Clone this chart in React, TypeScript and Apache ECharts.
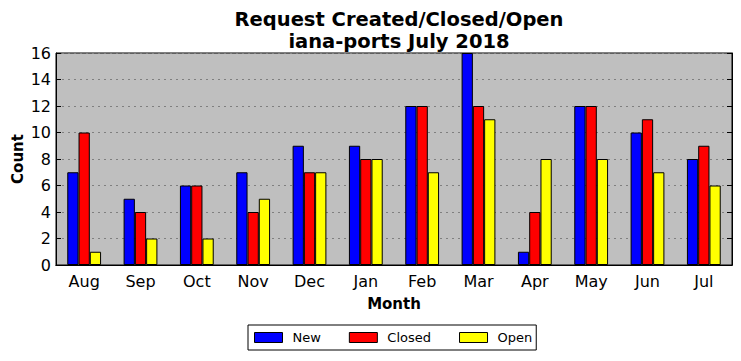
import React, { useEffect, useRef } from "react";
import * as echarts from "echarts";

const months = ["Aug", "Sep", "Oct", "Nov", "Dec", "Jan", "Feb", "Mar", "Apr", "May", "Jun", "Jul"];
const newVals = [7, 5, 6, 7, 9, 9, 12, 16, 1, 12, 10, 8];
const closedVals = [10, 4, 6, 4, 7, 8, 12, 12, 4, 12, 11, 9];
const openVals = [1, 2, 2, 5, 7, 8, 7, 11, 8, 8, 7, 6];

const FONT = "DejaVu Sans";

export default function App() {
  const ref = useRef<HTMLDivElement>(null);
  useEffect(() => {
    const chart = echarts.init(ref.current!, null, { renderer: "svg" });
    const bar = (name: string, data: number[], color: string) => ({
      name,
      type: "bar",
      data,
      barWidth: "20%",
      barGap: "0%",
      itemStyle: { color, borderColor: "#000", borderWidth: 1 },
    });
    chart.setOption({
      animation: false,
      backgroundColor: "#fff",
      textStyle: { fontFamily: FONT },
      title: {
        text: "Request Created/Closed/Open\niana-ports July 2018",
        left: 394,
        textAlign: "center",
        top: 3,
        textStyle: { fontSize: 19.5, fontWeight: "bold", color: "#000", lineHeight: 22, fontFamily: FONT },
      },
      grid: {
        left: 56,
        right: 9,
        top: 53,
        bottom: 96,
        show: true,
        backgroundColor: "#bfbfbf",
        borderColor: "#000",
        borderWidth: 1,
        outerBoundsMode: "none",
        containLabel: false,
      },
      legend: {
        bottom: 11,
        left: 248,
        data: ["New", "Closed", "Open"],
        icon: "rect",
        itemWidth: 28,
        itemHeight: 10,
        itemGap: 28,
        borderColor: "#000",
        borderWidth: 1,
        borderRadius: 0,
        padding: [6, 4, 6, 6],
        textStyle: { fontSize: 13, color: "#000", fontFamily: FONT, padding: [0, 0, 0, 5] },
        itemStyle: { borderColor: "#000", borderWidth: 1 },
      },
      xAxis: [
        {
          type: "category",
          data: months,
          name: "Month",
          nameLocation: "middle",
          nameGap: 31,
          nameMoveOverlap: false,
          nameTextStyle: { fontSize: 15, fontWeight: "bold", color: "#000", fontFamily: FONT },
          axisLine: { lineStyle: { color: "#000" } },
          axisTick: { inside: true, alignWithLabel: true, length: 5, lineStyle: { color: "#000" } },
          axisLabel: { fontSize: 16, color: "#000", margin: 8, fontFamily: FONT },
        },
        {
          type: "category",
          data: months,
          position: "top",
          axisLine: { lineStyle: { color: "#000" } },
          axisTick: { inside: true, alignWithLabel: true, length: 5, lineStyle: { color: "#000" } },
          axisLabel: { show: false },
        },
      ],
      yAxis: [
        {
          type: "value",
          min: 0,
          max: 16,
          interval: 2,
          name: "Count",
          nameLocation: "middle",
          nameGap: 31,
          nameMoveOverlap: false,
          nameTextStyle: { fontSize: 15, fontWeight: "bold", color: "#000", fontFamily: FONT },
          axisLine: { show: true, lineStyle: { color: "#000" } },
          axisTick: { show: true, inside: true, length: 5, lineStyle: { color: "#000" } },
          axisLabel: { fontSize: 16, color: "#000", margin: 5, fontFamily: FONT },
          splitLine: { show: true, lineStyle: { color: "#7f7f7f", type: [2, 4], width: 1 } },
        },
        {
          type: "value",
          min: 0,
          max: 16,
          interval: 2,
          position: "right",
          axisLine: { show: true, lineStyle: { color: "#000" } },
          axisTick: { show: true, inside: true, length: 5, lineStyle: { color: "#000" } },
          axisLabel: { show: false },
          splitLine: { show: false },
        },
      ],
      series: [
        bar("New", newVals, "#0000ff"),
        bar("Closed", closedVals, "#ff0000"),
        bar("Open", openVals, "#ffff00"),
      ],
    });
    return () => chart.dispose();
  }, []);
  return <div ref={ref} style={{ width: 741, height: 361, position: "absolute", left: 0, top: 0 }} />;
}
